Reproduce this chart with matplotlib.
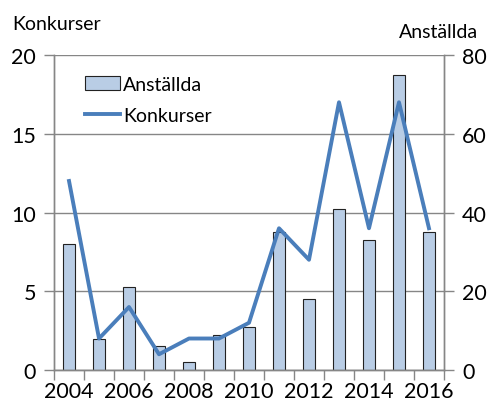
import matplotlib.pyplot as plt
import numpy as np

years = [2004, 2005, 2006, 2007, 2008, 2009, 2010, 2011, 2012, 2013, 2014, 2015, 2016]
anstallda = [32, 8, 21, 6, 2, 9, 11, 35, 18, 41, 33, 75, 35]
konkurser = [12, 2, 4, 1, 2, 2, 3, 9, 7, 17, 9, 17, 9]

plt.rcParams['font.family'] = ['Lato', 'DejaVu Sans']
grey = '#868686'

fig = plt.figure(figsize=(4.92, 4.10), dpi=100)
ax = fig.add_axes([0.1098, 0.0951, 0.7926, 0.7683])
x = np.arange(len(years))

# staplar (höger axel)
ax.bar(x, anstallda, width=0.4, color='#B9CDE5', edgecolor='#222222',
       linewidth=0.8, label='Anställda', zorder=2)
ax.set_ylim(0, 80)
ax.set_yticks([0, 20, 40, 60, 80])
ax.grid(axis='y', color=grey, linewidth=1, zorder=0)
ax.set_axisbelow(True)

# linje (vänster axel)
ax2 = ax.twinx()
ax2.plot(x, konkurser, color='#4A7EBB', linewidth=2.8, label='Konkurser',
         zorder=3)
ax2.set_ylim(0, 20)
ax2.set_yticks([0, 5, 10, 15, 20])
ax2.yaxis.tick_left()
ax.yaxis.tick_right()

ax.set_xlim(-0.5, len(years) - 0.5)
ax.set_xticks(x[::2])
ax.set_xticklabels([str(y) for y in years[::2]])
ax.set_xticks(np.arange(-0.5, len(years)), minor=True)
ax.tick_params(axis='x', which='major', length=0, labelsize=15.5, pad=8)
ax.tick_params(axis='x', which='minor', length=7, color=grey, width=1)
ax.tick_params(axis='y', length=7, color=grey, width=1, labelsize=15.5, pad=6)
ax2.tick_params(axis='y', length=7, color=grey, width=1, labelsize=15.5, pad=6)

for a in (ax, ax2):
    a.spines['top'].set_visible(False)
    for s in ('left', 'right', 'bottom'):
        a.spines[s].set_color(grey)
        a.spines[s].set_linewidth(1)

fig.text(0.024, 0.94, 'Konkurser', fontsize=14, ha='left', va='center')
fig.text(0.972, 0.92, 'Anställda', fontsize=14, ha='right', va='center')

h1, l1 = ax.get_legend_handles_labels()
h2, l2 = ax2.get_legend_handles_labels()
ax2.legend(h1 + h2, l1 + l2, loc='upper left', bbox_to_anchor=(0.035, 0.99),
           frameon=False, fontsize=14, handlelength=1.8, handletextpad=0.15,
           labelspacing=0.75)

fig.savefig('out.png', dpi=100)
